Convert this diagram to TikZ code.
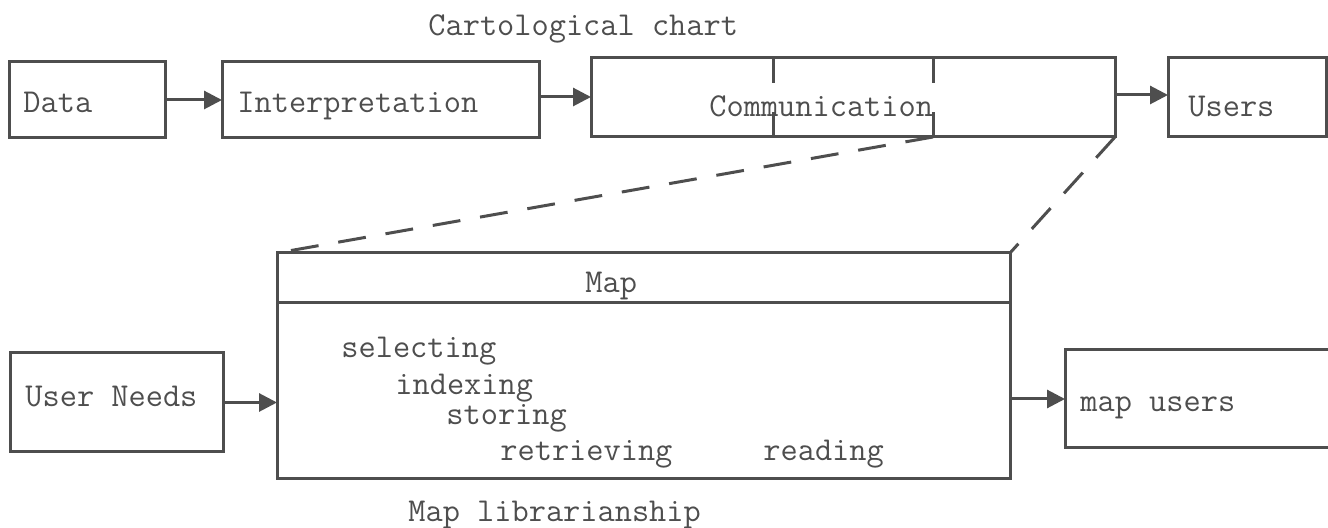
\documentclass[tikz,border=0pt]{standalone}
\usepackage{fontspec}
\usetikzlibrary{arrows.meta,calc}
\definecolor{ink}{RGB}{78,78,78}
\begin{document}
\begin{tikzpicture}[x=0.5pt,y=-0.5pt,
  box/.style={draw=ink,line width=1.5pt,rectangle,inner sep=0pt,outer sep=0pt},
  lbl/.style={anchor=base west,inner sep=0pt,text=ink,font=\ttfamily\fontsize{16.7}{20}\selectfont},
  flow/.style={draw=ink,line width=1.5pt,-{Triangle[length=9pt,width=9pt]}},
  zoomline/.style={draw=ink,line width=1.5pt,dash pattern=on 14pt off 10pt},
  tick/.style={draw=ink,line width=1.5pt}]
\useasboundingbox (0,0) rectangle (1328,528);
\newcommand{\boxnode}[5]{\node[box,minimum width={(#4-#2)*0.5pt},minimum height={(#5-#3)*0.5pt}] (#1) at ({(#2+#4)/2},{(#3+#5)/2}) {};}
% top row
\boxnode{data}{9}{62}{165}{138}
\boxnode{interp}{222}{62}{539}{138}
\boxnode{comm}{591}{58}{1115}{137}
\boxnode{users}{1168}{58}{1326}{137}
% bottom row
\boxnode{map}{277}{253}{1010}{479}
\boxnode{uneeds}{10}{353}{223}{452}
\boxnode{musers}{1065}{350}{1340}{448}
% texts
\node[lbl] (tcart) at (428,36) {Cartological chart};
\node[lbl] (tdata) at (23,113) {Data};
\node[lbl] (tinterp) at (237,113) {Interpretation};
\node[lbl] (tcomm) at (709,117) {Communication};
\node[lbl] (tusers) at (1188,117) {Users};
\node[lbl] (tmap) at (585,293) {Map};
\node[lbl] (tsel) at (341,358) {selecting};
\node[lbl] (tind) at (395,395) {indexing};
\node[lbl] (tsto) at (446,425) {storing};
\node[lbl] (tret) at (500,461) {retrieving};
\node[lbl] (trea) at (763,461) {reading};
\node[lbl] (tune) at (25,407) {User Needs};
\node[lbl] (tmus) at (1080,412) {map users};
\node[lbl] (tlib) at (408,522) {Map librarianship};
% ticks in the communication box
\coordinate (ta) at (773,137);
\coordinate (tb) at (933,137);
\draw[tick] (773,58) -- (773,83);
\draw[tick] (933,58) -- (933,83);
\draw[tick] (ta) -- (773,112);
\draw[tick] (tb) -- (933,112);
% divider in the map box
\draw[tick] (map.west |- 0,303) -- (map.east |- 0,303);
% arrows
\draw[flow] (data.east) -- (interp.west);
\draw[flow] (interp.east |- 0,97) -- (comm.west |- 0,97);
\draw[flow] (comm.east |- 0,95) -- (users.west |- 0,95);
\draw[flow] (uneeds.east) -- (map.west |- uneeds.east);
\draw[flow] (map.east |- musers.west) -- (musers.west);
% zoom lines
\draw[zoomline] (tb) -- (map.north west);
\draw[zoomline] (comm.south east) -- (map.north east);
\end{tikzpicture}
\end{document}
